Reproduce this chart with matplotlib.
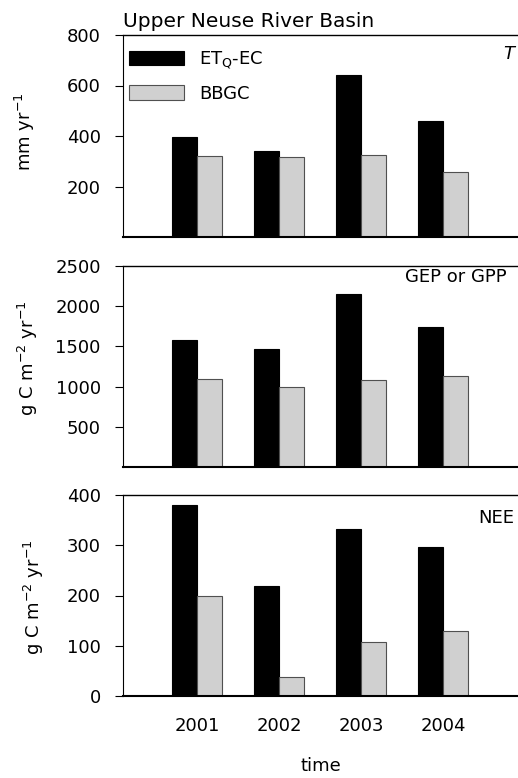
import matplotlib
matplotlib.use("Agg")
import matplotlib.pyplot as plt
import numpy as np

plt.rcParams['font.family'] = ['DejaVu Sans']
plt.rcParams['mathtext.fontset'] = 'dejavusans'

years = ["2001", "2002", "2003", "2004"]
series_names = ["ET$_\\mathrm{Q}$-EC", "BBGC"]
t_ec = [395, 341, 640, 461]
t_bbgc = [320, 316, 324, 259]
gep_ec = [1585, 1465, 2149, 1743]
gep_bbgc = [1092, 1001, 1076, 1126]
nee_ec = [380, 218, 333, 297]
nee_bbgc = [199, 37, 108, 129]

panels = [
    (t_ec, t_bbgc, "mm yr$^{-1}$", (0, 800), [200, 400, 600, 800], "T", 0.906),
    (gep_ec, gep_bbgc, "g C m$^{-2}$ yr$^{-1}$", (0, 2500), [500, 1000, 1500, 2000, 2500], "GEP or GPP", 0.945),
    (nee_ec, nee_bbgc, "g C m$^{-2}$ yr$^{-1}$", (0, 400), [0, 100, 200, 300, 400], "NEE", 0.886),
]
ylabel_pos = [(25, 132), (28, 358), (34, 597)]

W, H = 518, 778
fig = plt.figure(figsize=(W / 100, H / 100), dpi=100)
boxes = [(35, 237), (266, 467), (495, 696)]
left, right = 123, 518
x = np.arange(1, 5)
bw = 0.30
fs = 13

for i, ((ec, bb, ylab, ylim, yt, tag, ty), (top, bot)) in enumerate(zip(panels, boxes)):
    ax = fig.add_axes([left / W, 1 - bot / H, (right - left) / W, (bot - top) / H])
    ax.bar(x - bw / 2, ec, bw, color='black', edgecolor='black', linewidth=0.8, label=series_names[0])
    ax.bar(x + bw / 2, bb, bw, color='#d0d0d0', edgecolor='#505050', linewidth=0.8, label=series_names[1])
    ax.set_xlim(0.098, 4.915)
    ax.set_ylim(*ylim)
    ax.set_yticks(yt)
    ax.tick_params(axis='y', direction='out', length=6, width=0.8, labelsize=fs, pad=10)
    ax.spines['right'].set_visible(False)
    ax.spines['top'].set_linewidth(1.0)
    ax.spines['left'].set_linewidth(0.8)
    ax.spines['bottom'].set_linewidth(1.5)
    lx, ly = ylabel_pos[i]
    fig.text(lx / W, 1 - ly / H, ylab, rotation=90, ha='center', va='center', fontsize=fs)
    style = 'italic' if tag == 'T' else 'normal'
    tx = 0.99 if i != 1 else 0.972
    ax.text(tx, ty, tag, transform=ax.transAxes, ha='right', va='center', fontsize=fs, fontstyle=style)
    if i == 2:
        ax.set_xticks(x)
        ax.set_xticklabels(years, fontsize=fs)
        ax.tick_params(axis='x', length=0, pad=15)
        ax.set_xlabel("time", fontsize=fs, labelpad=16)
    else:
        ax.set_xticks([])
    if i == 0:
        ax.legend(loc='upper left', frameon=False, fontsize=fs, handlelength=3.05, handleheight=0.85,
                  labelspacing=0.78, handletextpad=0.85, borderaxespad=0.0, borderpad=0.0,
                  bbox_to_anchor=(0.015, 0.93))
        ax.text(0.0, 1.02, "Upper Neuse River Basin", transform=ax.transAxes, ha='left', va='bottom', fontsize=14.5)

fig.savefig("out.png", dpi=100)
